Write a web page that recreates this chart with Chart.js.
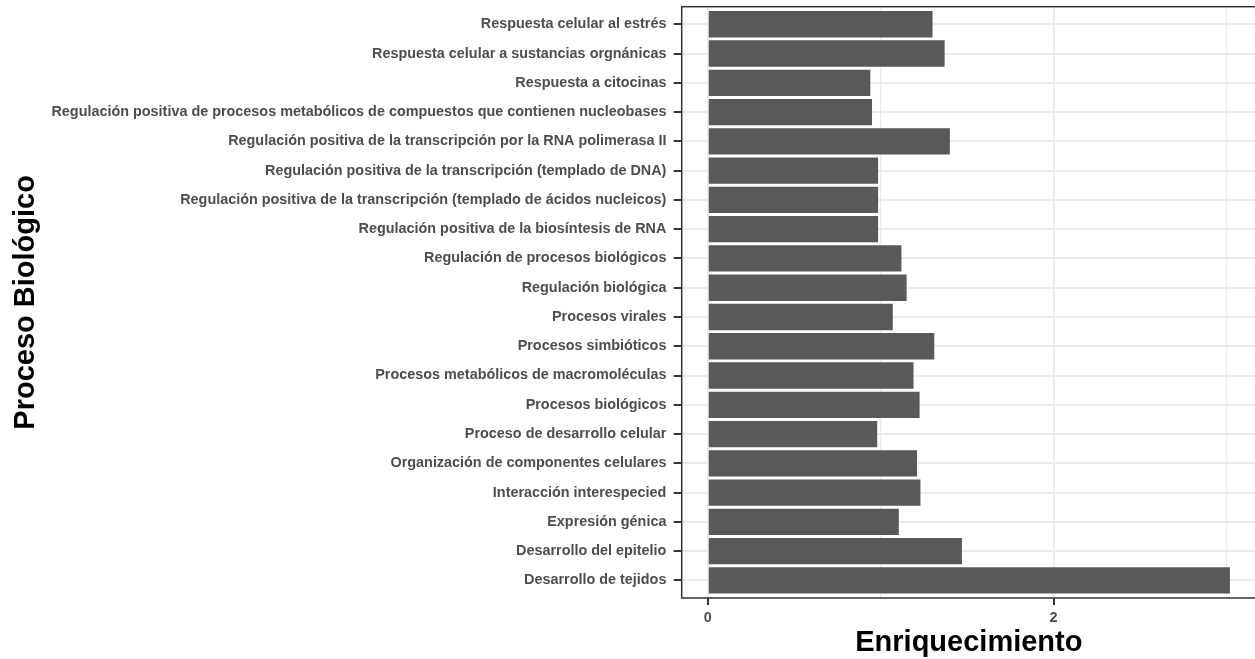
<!DOCTYPE html>
<html lang="es">
<head>
<meta charset="utf-8">
<title>Enriquecimiento por proceso biológico</title>
<script src="https://cdn.jsdelivr.net/npm/chart.js@4.4.1/dist/chart.umd.min.js"></script>
<style>
  html, body { margin: 0; padding: 0; background: #ffffff; overflow: hidden; }
  #wrap { width: 1257px; height: 659px; }
</style>
</head>
<body>
<div id="wrap"><canvas id="chart" width="1257" height="659"></canvas></div>
<script>
// Biological processes, listed top to bottom
const categories = [
  "Respuesta celular al estrés",
  "Respuesta celular a sustancias orgnánicas",
  "Respuesta a citocinas",
  "Regulación positiva de procesos metabólicos de compuestos que contienen nucleobases",
  "Regulación positiva de la transcripción por la RNA polimerasa II",
  "Regulación positiva de la transcripción (templado de DNA)",
  "Regulación positiva de la transcripción (templado de ácidos nucleicos)",
  "Regulación positiva de la biosíntesis de RNA",
  "Regulación de procesos biológicos",
  "Regulación biológica",
  "Procesos virales",
  "Procesos simbióticos",
  "Procesos metabólicos de macromoléculas",
  "Procesos biológicos",
  "Proceso de desarrollo celular",
  "Organización de componentes celulares",
  "Interacción interespecied",
  "Expresión génica",
  "Desarrollo del epitelio",
  "Desarrollo de tejidos"
];

// Enrichment for each process, same order
const enrichment = [
  1.30, 1.37, 0.94, 0.95, 1.40,
  0.985, 0.985, 0.985, 1.12, 1.15,
  1.07, 1.31, 1.19, 1.225, 0.98,
  1.21, 1.23, 1.105, 1.47, 3.02
];

// Labelled breaks on the enrichment axis, and the minor breaks between them
const majorBreaks = [0, 2];
const minorBreaks = [1, 3];

// Axis limits with a 5% margin around the data range
const dataMax = Math.max(...enrichment);
const xPad = 0.05 * dataMax;
const xMin = -xPad;
const xMax = dataMax + xPad;

const GRID = '#EBEBEB';
const INK = '#333333';
const TICK_TEXT = '#4D4D4D';
const FONT = '"Liberation Sans", Arial, Helvetica, sans-serif';

const panelBorder = {
  id: 'panelBorder',
  afterDatasetsDraw(chart) {
    const { ctx, chartArea: a } = chart;
    ctx.save();
    ctx.strokeStyle = INK;
    ctx.lineWidth = 1.5;
    ctx.strokeRect(a.left, a.top, a.right - a.left, a.bottom - a.top);
    ctx.restore();
  }
};

new Chart(document.getElementById('chart'), {
  type: 'bar',
  data: {
    datasets: [{
      data: enrichment.map((v, i) => ({ x: v, y: i })),
      backgroundColor: '#595959',
      borderWidth: 0,
      barPercentage: 0.9,
      categoryPercentage: 1.0
    }]
  },
  options: {
    indexAxis: 'y',
    responsive: false,
    animation: false,
    devicePixelRatio: 1,
    layout: { padding: { top: 6.7, right: 1, bottom: 0, left: 0 } },
    plugins: {
      legend: { display: false },
      tooltip: { enabled: false }
    },
    scales: {
      x: {
        type: 'linear',
        position: 'bottom',
        min: xMin,
        max: xMax,
        offset: false,
        afterBuildTicks(scale) {
          scale.ticks = [...majorBreaks, ...minorBreaks]
            .sort((a, b) => a - b)
            .map(v => ({ value: v }));
        },
        afterFit(scale) {
          scale.height = 61;
          scale.paddingLeft = 0;
          scale.paddingRight = 0;
        },
        border: { display: false },
        grid: {
          offset: false,
          color: GRID,
          lineWidth: ctx => (ctx.tick && majorBreaks.includes(ctx.tick.value)) ? 2 : 1.2,
          drawTicks: true,
          tickLength: 7,
          tickWidth: 2,
          tickColor: ctx => (ctx.tick && majorBreaks.includes(ctx.tick.value)) ? INK : 'rgba(0,0,0,0)'
        },
        ticks: {
          autoSkip: false,
          maxRotation: 0,
          padding: 4,
          color: TICK_TEXT,
          font: { family: FONT, size: 14.4, weight: 'bold' },
          callback: v => majorBreaks.includes(v) ? String(v) : ''
        },
        title: {
          display: true,
          text: 'Enriquecimiento',
          color: '#000000',
          font: { family: FONT, size: 29, weight: 'bold', lineHeight: 1 },
          padding: { top: 0, bottom: 1.7 }
        }
      },
      y: {
        type: 'linear',
        position: 'left',
        reverse: true,
        offset: false,
        min: -0.6,
        max: categories.length - 1 + 0.6,
        afterBuildTicks(scale) {
          scale.ticks = categories.map((_, i) => ({ value: i }));
        },
        afterFit(scale) {
          scale.width = 681.7;
          scale.paddingTop = 0;
          scale.paddingBottom = 0;
        },
        border: { display: false },
        grid: {
          offset: false,
          color: GRID,
          lineWidth: 2,
          drawTicks: true,
          tickLength: 8,
          tickWidth: 2,
          tickColor: INK
        },
        ticks: {
          autoSkip: false,
          padding: 7.3,
          color: TICK_TEXT,
          font: { family: FONT, size: 14.4, weight: 'bold' },
          callback: v => categories[v] ?? ''
        },
        title: {
          display: true,
          text: 'Proceso Biológico',
          color: '#000000',
          font: { family: FONT, size: 29, weight: 'bold', lineHeight: 1 },
          padding: { top: 11.3, bottom: 0 }
        }
      }
    }
  },
  plugins: [panelBorder]
});
</script>
</body>
</html>
